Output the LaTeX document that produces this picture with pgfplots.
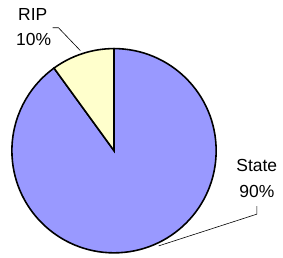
\documentclass[border=0pt]{standalone}
\usepackage{pgfplots}
\pgfplotsset{compat=1.18}
\usepackage{fontspec}
\setmainfont{Liberation Sans}
\definecolor{statecol}{HTML}{9999FF}
\definecolor{ripcol}{HTML}{FFFFCC}
\begin{document}
\begin{tikzpicture}
\def\ripval{10}
\def\stateval{90}
\begin{axis}[hide axis, scale only axis, width=283pt, height=260pt,
  xmin=0, xmax=283, ymin=0, ymax=260, y dir=reverse, clip=false]
\path (axis cs:0,0) rectangle (axis cs:283,260);
\filldraw[fill=statecol, draw=black, line width=1.6pt]
  (axis cs:115,152) -- ++(90:103pt) arc[start angle=90, delta angle={-3.6*\stateval}, radius=103pt] -- cycle;
\filldraw[fill=ripcol, draw=black, line width=1.6pt]
  (axis cs:115,152) -- ++(90:103pt) arc[start angle=90, delta angle={3.6*\ripval}, radius=103pt] -- cycle;
\draw[black, line width=0.6pt] (axis cs:53,28) -- (axis cs:59,28) -- (axis cs:81,51);
\draw[black, line width=0.6pt] (axis cs:259,208) -- (axis cs:259,216) -- (axis cs:160,248);
\fontsize{17.6}{20}\selectfont
\node[anchor=base] at (axis cs:33,21) {RIP};
\node[anchor=base] at (axis cs:34,46) {10\%};
\node[anchor=base] at (axis cs:259,173) {State};
\node[anchor=base] at (axis cs:259,199) {90\%};
\end{axis}
\end{tikzpicture}
\end{document}
